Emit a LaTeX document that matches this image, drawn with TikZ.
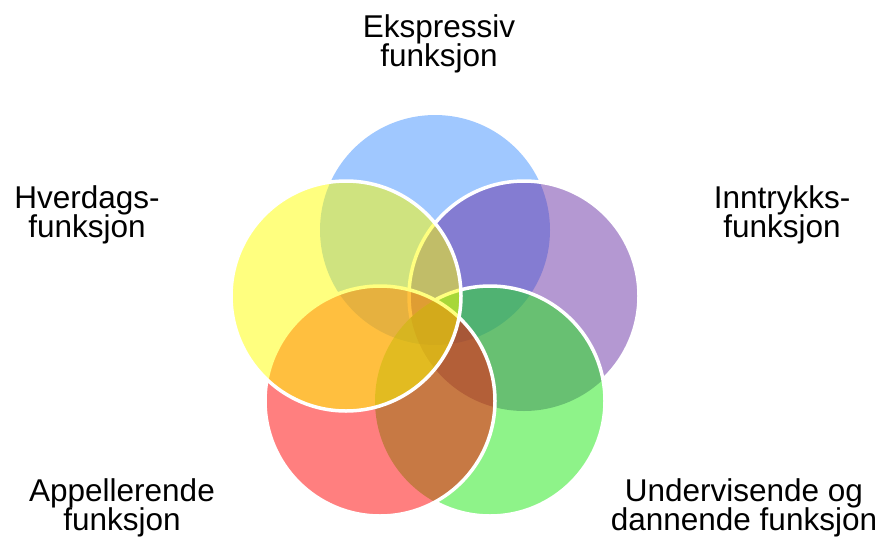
\documentclass[tikz,border=0pt]{standalone}
\usepackage{fontspec}
\setmainfont{Liberation Sans}
\definecolor{vblue}{RGB}{65,145,255}
\definecolor{vpurple}{RGB}{105,50,165}
\definecolor{vgreen}{RGB}{30,232,20}
\definecolor{vred}{RGB}{255,0,0}
\definecolor{vyellow}{RGB}{255,255,0}
\tikzset{
  disc/.style={fill=#1, fill opacity=0.5},
  rim/.style={draw=white, line width=3.5pt},
  lbl/.style={align=center, inner sep=0pt, text=black,
    font={\fontsize{31.5}{29}\selectfont\lineskiplimit=-20pt}},
}
\begin{document}
\begin{tikzpicture}[x=1pt,y=-1pt]
\useasboundingbox (0,0) rectangle (885,541);
\coordinate (cB) at (435,230);
\coordinate (cP) at (524,296);
\coordinate (cG) at (490,401);
\coordinate (cR) at (380,401);
\coordinate (cY) at (346,296);
\def\rr{115}
% blue
\fill[disc=vblue] (cB) circle[radius=\rr];
% purple
\fill[disc=vpurple] (cP) circle[radius=\rr];
\begin{scope}[even odd rule]
  \clip (-10,-10) rectangle (900,560) (cG) circle[radius=\rr];
  \draw[rim] (cP) circle[radius=\rr];
\end{scope}
% green
\fill[disc=vgreen] (cG) circle[radius=\rr];
\begin{scope}[even odd rule]
  \clip (-10,-10) rectangle (900,560) (cR) circle[radius=\rr];
  \draw[rim] (cG) circle[radius=\rr];
\end{scope}
% red
\fill[disc=vred] (cR) circle[radius=\rr];
\draw[rim] (cR) circle[radius=\rr];
% yellow
\fill[disc=vyellow] (cY) circle[radius=\rr];
\draw[rim] (cY) circle[radius=\rr];
% labels
\node[lbl] (lE) at (439,43.5) {Ekspressiv\\funksjon};
\node[lbl] (lH) at (87,214.5) {Hverdags-\\funksjon};
\node[lbl] (lI) at (782,214.5) {Inntrykks-\\funksjon};
\node[lbl] (lA) at (122,508) {Appellerende\\funksjon};
\node[lbl] (lU) at (744,508) {Undervisende og\\dannende funksjon};
\end{tikzpicture}
\end{document}
